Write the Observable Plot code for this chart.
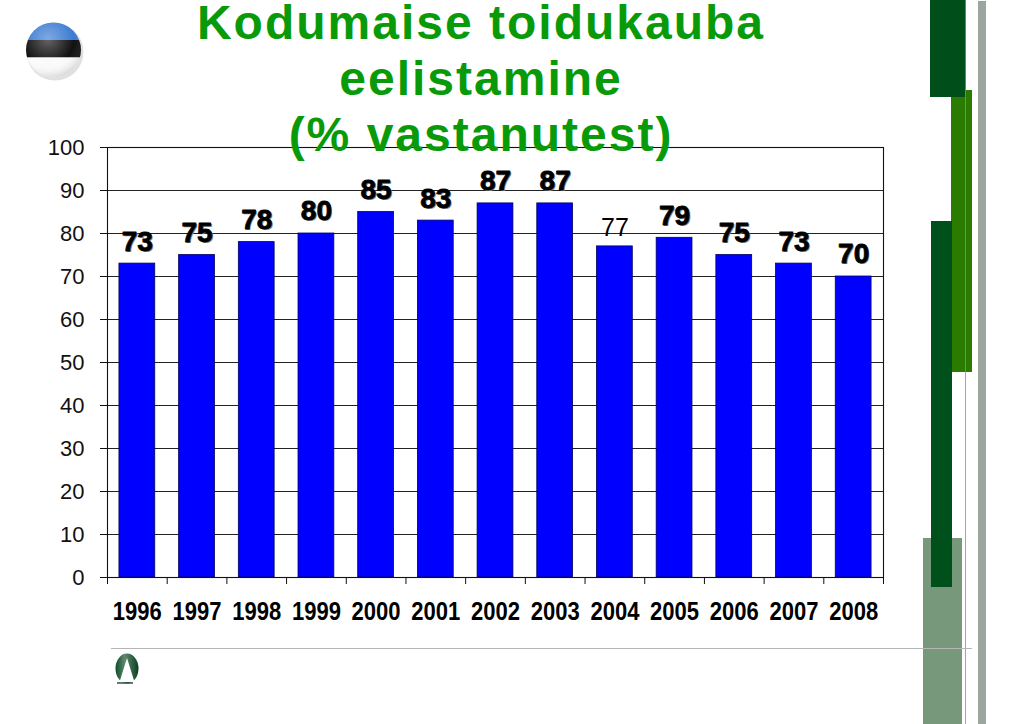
<!DOCTYPE html>
<html>
<head>
<meta charset="utf-8">
<script src="https://cdn.jsdelivr.net/npm/d3@7"></script>
<script src="https://cdn.jsdelivr.net/npm/@observablehq/plot@0.6"></script>
<style>
  html, body { margin: 0; padding: 0; background: #fff; }
  body { width: 1024px; height: 724px; position: relative; overflow: hidden; font-family: "Liberation Sans", Arial, sans-serif; }
  #title { position: absolute; left: 0; width: 962px; top: -5px; text-align: center;
    font-family: "Liberation Sans", Arial, sans-serif; font-weight: bold; font-size: 48px; line-height: 56px;
    letter-spacing: 2px; color: #089a08; z-index: 2; }
  #chart { position: absolute; left: 0; top: 0; z-index: 1; }
  #deco { position: absolute; left: 0; top: 0; z-index: 0; }
</style>
</head>
<body>
<svg id="deco" width="1024" height="724">
  <defs>
    <radialGradient id="gloss" cx="0.4" cy="0.3" r="0.8">
      <stop offset="0" stop-color="#fff" stop-opacity="0.35"/>
      <stop offset="0.6" stop-color="#fff" stop-opacity="0"/>
      <stop offset="1" stop-color="#000" stop-opacity="0.25"/>
    </radialGradient>
    <clipPath id="flagClip"><circle cx="53.5" cy="50" r="27.5"/></clipPath>
    <linearGradient id="logoG" x1="0" x2="1" y1="0" y2="0">
      <stop offset="0" stop-color="#0f4a2a"/>
      <stop offset="0.4" stop-color="#5f8a70"/>
      <stop offset="1" stop-color="#0b3f22"/>
    </linearGradient>
  </defs>
  <circle cx="55" cy="52" r="28.5" fill="#000" opacity="0.12"/>
  <g clip-path="url(#flagClip)">
    <rect x="20" y="20" width="70" height="20" fill="#3b7bd1"/>
    <rect x="20" y="40" width="70" height="17.5" fill="#111"/>
    <rect x="20" y="57.5" width="70" height="25" fill="#fafafa"/>
    <circle cx="53.5" cy="50" r="27.5" fill="url(#gloss)"/>
  </g>
  <!-- right decorations -->
  <rect x="923" y="538" width="39" height="186" fill="#77987a"/>
  <rect x="951" y="90" width="21" height="282" fill="#2b7b01"/>
  <rect x="931" y="221" width="21" height="366" fill="#00501b"/>
  <rect x="930" y="0" width="36" height="97" fill="#004f1b"/>
  <line x1="965.5" y1="0" x2="965.5" y2="724" stroke="#8a8f8c" stroke-width="1" opacity="0.8"/>
  <rect x="978" y="1" width="8" height="723" fill="#9ba69f"/>
  <line x1="111" y1="648.5" x2="972" y2="648.5" stroke="#b5b5b5" stroke-width="1"/>
  <!-- bottom logo -->
  <ellipse cx="127" cy="668.5" rx="11.5" ry="15" fill="url(#logoG)"/>
  <polygon points="127,658 119.5,682 134.5,682" fill="#fff"/>
  <line x1="117" y1="683" x2="133" y2="683" stroke="#1d4a30" stroke-width="1.4"/>
</svg>
<div id="title">Kodumaise toidukauba<br>eelistamine<br>(% vastanutest)</div>
<div id="chart"></div>
<script>
const years = ["1996","1997","1998","1999","2000","2001","2002","2003","2004","2005","2006","2007","2008"];
const values = [73, 75, 78, 80, 85, 83, 87, 87, 77, 79, 75, 73, 70];
const yTicks = [0, 10, 20, 30, 40, 50, 60, 70, 80, 90, 100];

const data = years.map((year, i) => ({year, value: values[i]}));

const W = 1024, H = 640, mL = 107, mR = 141, mT = 147, mB = 63;
const step = (W - mL - mR) / years.length;
const pxPerUnit = (H - mT - mB) / 100;
const tickLen = 7 / pxPerUnit;

const chart = Plot.plot({
  width: W, height: H,
  marginTop: mT, marginBottom: mB, marginLeft: mL, marginRight: mR,
  style: {fontFamily: "'Liberation Sans', Arial, sans-serif", background: "transparent", overflow: "visible"},
  x: {domain: years, paddingInner: 0.4, paddingOuter: 0.2, round: false, label: null},
  y: {domain: [0, 100], label: null},
  marks: [
    Plot.ruleY(yTicks, {stroke: "#222", strokeWidth: 1.1}),
    Plot.barY(data, {x: "year", y: "value", fill: "#0000ff", stroke: "#000060", strokeWidth: 0.8}),
    Plot.frame({stroke: "#111", strokeWidth: 1.1}),
    Plot.axisY(yTicks, {tickSize: 7, tickPadding: 16, fontSize: 22, stroke: "#111", fill: "#111", label: null}),
    Plot.axisX({tickSize: 0, tickPadding: 24, fontSize: 26, fontWeight: "bold", fill: "#000", label: null}),
    Plot.ruleX(years, {x: d => d, dx: -step / 2, y1: 0, y2: -tickLen, stroke: "#111"}),
    Plot.ruleX(years.slice(-1), {x: d => d, dx: step / 2, y1: 0, y2: -tickLen, stroke: "#111"}),
    // value labels (shadow + text)
    Plot.text(data.filter(d => d.year !== "2004"), {x: "year", y: "value", text: d => String(d.value), dy: -21, dx: 1.2,
      fontSize: 28, fontWeight: "bold", fill: "#888", lineAnchor: "middle"}),
    Plot.text(data.filter(d => d.year !== "2004"), {x: "year", y: "value", text: d => String(d.value), dy: -22,
      fontSize: 28, fontWeight: "bold", fill: "#000", stroke: "#000", strokeWidth: 0.8, lineAnchor: "middle"}),
    Plot.text(data.filter(d => d.year === "2004"), {x: "year", y: "value", text: d => String(d.value), dy: -18,
      fontSize: 25, fontWeight: "normal", fill: "#000", lineAnchor: "middle"})
  ]
});
// condense the year labels like the narrow font in the original
chart.querySelectorAll('g[aria-label="x-axis tick label"] text').forEach(t => {
  t.setAttribute("textLength", "49");
  t.setAttribute("lengthAdjust", "spacingAndGlyphs");
});
document.getElementById("chart").appendChild(chart);
</script>
</body>
</html>
